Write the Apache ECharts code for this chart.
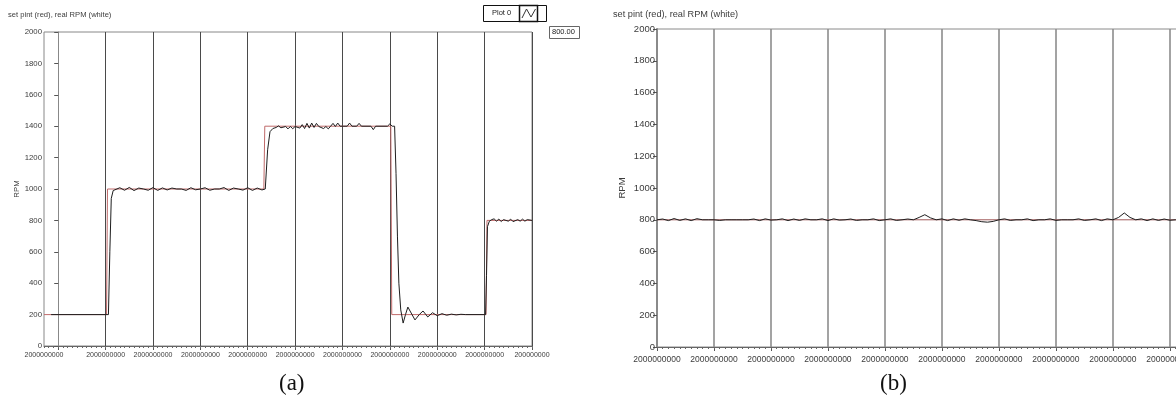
<!DOCTYPE html>
<html><head><meta charset="utf-8">
<script src="https://cdn.jsdelivr.net/npm/echarts@6/dist/echarts.min.js"></script>
<style>html,body{margin:0;padding:0;background:#fff}#c{width:1176px;height:398px}</style>
</head><body><div id="c"></div>
<script>
// ---- data ----
const xGridA = [0,1,2,3,4,5,6,7,8,9,10];
const xLabelPosA = [-0.3,1,2,3,4,5,6,7,8,9,10];
const xGridB = [0,1,2,3,4,5,6,7,8,9];
const xTickLabel = '2000000000';
const xTickLabelLastA = '200000000';
const titleText = 'set pint (red), real RPM (white)';
const yName = 'RPM';
// panel (a): setpoint (red) and measured RPM (black)
const setA = [[-0.3,200],[1.02,200],[1.04,1000],[4.34,1000],[4.36,1400],[7.02,1400],[7.04,200],[9.03,200],[9.05,800],[10,800]];
const rpmA = [[-0.15,200],[1.06,200],[1.09,600],[1.12,940],[1.16,990],[1.2,1000],
 [1.3,1008],[1.4,992],[1.5,1010],[1.6,990],[1.7,1006],[1.8,1000],[1.9,992],[2.0,1009],[2.1,991],[2.2,1007],[2.3,994],[2.4,1006],[2.5,1000],[2.6,1000],[2.7,991],[2.8,1008],[2.9,995],[3.0,1000],[3.1,1008],[3.2,992],[3.3,1000],[3.4,1000],[3.5,1009],[3.6,991],[3.7,1006],[3.8,1000],[3.9,993],[4.0,1008],[4.1,991],[4.2,1006],[4.3,994],[4.37,1000],
 [4.42,1250],[4.47,1365],[4.53,1385],[4.6,1392],[4.65,1402],[4.7,1390],[4.8,1398],[4.85,1383],[4.9,1398],[4.95,1384],[5.0,1398],[5.1,1388],[5.15,1410],[5.2,1385],[5.25,1418],[5.3,1388],[5.35,1420],[5.4,1392],[5.45,1418],[5.5,1398],[5.6,1385],[5.65,1398],[5.7,1383],[5.75,1400],[5.8,1418],[5.85,1398],[5.9,1420],[5.95,1400],[6.1,1400],[6.15,1420],[6.2,1400],[6.3,1400],[6.35,1418],[6.4,1400],[6.6,1400],[6.65,1378],[6.7,1400],[6.95,1400],[7.0,1415],[7.05,1400],[7.1,1400],
 [7.13,1100],[7.16,700],[7.19,400],[7.23,230],[7.28,146],[7.33,200],[7.38,248],[7.45,210],[7.53,166],[7.62,200],[7.70,223],[7.80,185],[7.9,212],[8.0,193],[8.1,206],[8.2,196],[8.3,203],[8.4,198],[8.5,202],[8.6,200],[9.02,200],
 [9.04,450],[9.06,760],[9.1,795],[9.15,805],[9.2,810],[9.25,795],[9.3,808],[9.35,793],[9.4,805],[9.5,795],[9.55,808],[9.6,792],[9.7,805],[9.75,795],[9.8,808],[9.85,795],[9.9,805],[10,800]];
// panel (b)
const setB = [[0,800],[9.16,800]];
const rpmB = [[0,800],[0.1,805],[0.2,795],[0.3,808],[0.4,796],[0.5,806],[0.6,795],[0.7,807],[0.8,800],[0.9,800],[1.0,800],[1.1,796],[1.2,800],[1.3,800],[1.4,800],[1.5,800],[1.6,800],[1.7,805],[1.8,795],[1.9,806],[2.0,798],[2.1,800],[2.2,806],[2.3,795],[2.4,805],[2.5,796],[2.6,806],[2.7,800],[2.8,800],[2.9,806],[3.0,795],[3.1,806],[3.2,798],[3.3,800],[3.4,805],[3.5,796],[3.6,800],[3.7,800],[3.8,806],[3.9,795],[4.0,800],[4.1,806],[4.2,796],[4.3,800],[4.4,805],[4.5,800],[4.6,815],[4.7,832],[4.8,812],[4.9,800],[5.0,806],[5.1,795],[5.2,806],[5.3,797],[5.4,806],[5.5,800],[5.6,795],[5.7,788],[5.8,785],[5.9,790],[6.0,800],[6.1,806],[6.2,796],[6.3,800],[6.4,800],[6.5,806],[6.6,795],[6.7,800],[6.8,800],[6.9,806],[7.0,796],[7.1,800],[7.2,800],[7.3,800],[7.4,806],[7.5,796],[7.6,800],[7.7,806],[7.8,795],[7.9,806],[8.0,800],[8.1,815],[8.2,843],[8.3,815],[8.4,800],[8.5,806],[8.6,795],[8.7,806],[8.8,796],[8.9,805],[9.0,797],[9.1,800],[9.16,800]];

const FONT = '"Liberation Sans",Arial,sans-serif';
const TXT = '#3c3c3c';

function xAxisCfg(gi, min, max, fs, margin, tickVals, labelVals, fmt, splitColor, splitW) {
  return {
    type:'value', gridIndex:gi, min:min, max:max, interval:0.1,
    axisLine:{show:true, lineStyle:{color:'#666', width:1}},
    axisTick:{show:true, length:4, customValues:tickVals, lineStyle:{color:'#555'}},
    minorTick:{show:false},
    splitLine:{show:true, lineStyle:{color:splitColor, width:splitW}},
    axisLabel:{fontSize:fs, fontFamily:FONT, color:TXT, margin:margin, customValues:labelVals, formatter:fmt}
  };
}
function minorAxisCfg(gi, min, max) {
  // a second, label-less axis carrying the small ticks every 1/10 division
  return {
    type:'value', gridIndex:gi, min:min, max:max, interval:0.1, position:'bottom',
    axisLine:{show:false}, axisLabel:{show:false}, splitLine:{show:false},
    axisTick:{show:true, length:2, lineStyle:{color:'#666'}}
  };
}
function yAxisCfg(gi, fs, lineColor, lineW, gap) {
  return {
    type:'value', gridIndex:gi, min:0, max:2000, interval:200,
    name:yName, nameLocation:'middle', nameRotate:90, nameGap:gap,
    nameTextStyle:{fontSize:fs, fontFamily:FONT, color:TXT},
    axisLine:{show:true, lineStyle:{color:lineColor, width:lineW}},
    axisTick:{show:true, length:4, lineStyle:{color:'#555'}},
    splitLine:{show:false},
    axisLabel:{fontSize:fs, fontFamily:FONT, color:TXT, margin:2, formatter:v => String(v)}
  };
}
const fmtA = v => (Math.abs(v - 10) < 1e-6 ? xTickLabelLastA : xTickLabel);
const fmtB = v => xTickLabel;

const chart = echarts.init(document.getElementById('c'), null, {renderer:'canvas'});
chart.setOption({
  animation:false,
  backgroundColor:'#fff',
  grid:[
    {left:44, top:32, width:488, height:314, show:true, borderColor:'#888', borderWidth:1, backgroundColor:'#fff', containLabel:false, outerBoundsMode:'none'},
    {left:657, top:29, width:522, height:318, show:true, borderColor:'#8a8a8a', borderWidth:1, backgroundColor:'#fff', containLabel:false, outerBoundsMode:'none'}
  ],
  xAxis:[
    xAxisCfg(0, -0.3, 10, 7, 6, xGridA, xLabelPosA, fmtA, '#4a4a4a', 1),
    xAxisCfg(1, 0, 9.16, 8.5, 8, xGridB, xGridB, fmtB, '#8c8c8c', 1.6),
    minorAxisCfg(0, -0.3, 10),
    minorAxisCfg(1, 0, 9.16)
  ],
  yAxis:[
    yAxisCfg(0, 7.8, '#888', 1, 23),
    yAxisCfg(1, 9.5, '#8a8a8a', 2, 30)
  ],
  series:[
    {type:'line', xAxisIndex:0, yAxisIndex:0, data:setA, symbol:'none', lineStyle:{color:'#c06a6a', width:1}},
    {type:'line', xAxisIndex:0, yAxisIndex:0, data:rpmA, symbol:'none', lineStyle:{color:'#1e1e1e', width:1}},
    {type:'line', xAxisIndex:1, yAxisIndex:1, data:setB, symbol:'none', lineStyle:{color:'#a05a5a', width:1}},
    {type:'line', xAxisIndex:1, yAxisIndex:1, data:rpmB, symbol:'none', lineStyle:{color:'#1e1e1e', width:1}}
  ],
  graphic:[
    {type:'text', left:8, top:11, style:{text:titleText, fontSize:7.6, fontFamily:FONT, fill:TXT}},
    {type:'text', left:613, top:10, style:{text:titleText, fontSize:9.2, fontFamily:FONT, fill:TXT}},
    {type:'rect', shape:{x:483.5, y:5.5, width:63, height:16}, style:{fill:'#fff', stroke:'#111', lineWidth:1}},
    {type:'text', left:492, top:9, style:{text:'Plot 0', fontSize:7.5, fontFamily:FONT, fill:'#222'}},
    {type:'rect', shape:{x:519.5, y:5.5, width:18, height:16}, style:{fill:'none', stroke:'#111', lineWidth:1.5}},
    {type:'polyline', shape:{points:[[522,18],[526.5,9],[531,17],[535.5,9]]}, style:{fill:'none', stroke:'#333', lineWidth:1}},
    {type:'rect', shape:{x:549.5, y:26.5, width:30, height:12}, style:{fill:'#fff', stroke:'#666', lineWidth:1}},
    {type:'text', left:552, top:28, style:{text:'800.00', fontSize:7.5, fontFamily:FONT, fill:'#222'}},
    {type:'text', left:279, top:372, style:{text:'(a)', fontSize:23, fontFamily:'"Liberation Serif","Times New Roman",serif', fill:'#111'}},
    {type:'text', left:880, top:372, style:{text:'(b)', fontSize:23, fontFamily:'"Liberation Serif","Times New Roman",serif', fill:'#111'}}
  ]
});
</script></body></html>
